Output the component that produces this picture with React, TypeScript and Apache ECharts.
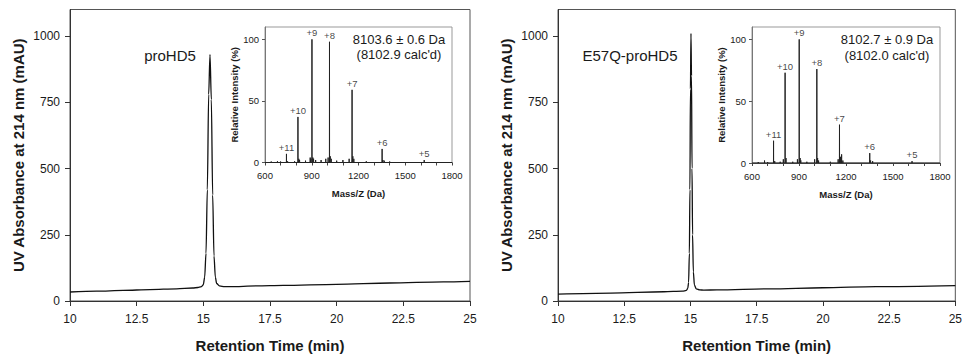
import { useEffect, useRef } from "react";
import * as echarts from "echarts";

// HPLC traces (retention time in min, absorbance in mAU)
const timeA = [10, 11, 12, 13, 14, 14.6, 14.8, 14.9, 14.95, 15.0, 15.05, 15.1, 15.15, 15.2, 15.25, 15.3, 15.35, 15.4, 15.45, 15.5, 15.6, 15.8, 16, 17, 18, 20, 22, 24, 25];
const absA = [34, 37, 40, 43, 46, 49, 51, 53, 56, 62, 90, 180, 420, 780, 930, 760, 400, 170, 90, 66, 57, 54, 54, 57, 59, 63, 68, 72, 74];

const timeB = [10, 12, 14, 14.7, 14.85, 14.9, 14.93, 14.96, 14.98, 15.0, 15.02, 15.04, 15.06, 15.08, 15.11, 15.15, 15.22, 15.35, 15.5, 16, 18, 20, 22, 25];
const absB = [26, 30, 35, 37, 40, 48, 70, 180, 420, 800, 1010, 850, 500, 250, 110, 60, 46, 42, 41, 42, 46, 50, 54, 58];

// ESI-MS: charge-state ions
const chargeLabels = ["+11", "+10", "+9", "+8", "+7", "+6", "+5"];
const ionMzA = [737.7, 811.4, 901.4, 1013.9, 1158.7, 1351.6, 1621.7];
const ionIntA = [7, 37, 100, 98, 59, 11, 2];
const ionMzB = [737.6, 811.3, 901.3, 1013.8, 1158.5, 1351.5, 1621.5];
const ionIntB = [18, 73, 100, 76, 31, 8, 1.5];

// minor peaks / adducts / noise
const minorMzA = [640, 680, 700, 745, 790, 817, 822, 860, 890, 895, 907, 912, 925, 960, 990, 1005, 1019, 1025, 1060, 1100, 1140, 1164, 1170, 1250, 1357, 1365, 1400, 1500, 1700];
const minorIntA = [0.8, 1, 0.8, 1, 1, 3, 2, 1.5, 4, 3, 4, 3, 2, 2, 3, 4, 5, 3, 1.5, 2, 3, 5, 3, 1, 2, 1.5, 0.8, 0.5, 0.5];
const minorMzB = [640, 680, 700, 745, 780, 800, 817, 860, 890, 907, 912, 950, 1000, 1019, 1025, 1100, 1150, 1165, 1172, 1180, 1357, 1370, 1450, 1700];
const minorIntB = [0.8, 2, 0.8, 1.5, 1, 3, 4, 1, 3, 4, 2, 1, 3, 4, 2, 1, 3, 5, 7, 2, 2, 1.5, 0.5, 0.5];

const insetText = [
  ["8103.6 \u00b1 0.6 Da", "(8102.9 calc'd)"],
  ["8102.7 \u00b1 0.9 Da", "(8102.0 calc'd)"],
];
const sampleNames = ["proHD5", "E57Q-proHD5"];

const FONT = "'Liberation Sans', Arial, Helvetica, sans-serif";
const TXT = "#1a1a1a";

function zip(a: number[], b: number[]) {
  return a.map((v, i) => [v, b[i]]);
}

function sticks(mzs: number[], ints: number[]) {
  const pairs = mzs.map((m, i) => [m, ints[i]]).sort((p, q) => p[0] - q[0]);
  const out: number[][] = [[600, 0]];
  pairs.forEach(([m, h]) => {
    out.push([m - 0.5, 0], [m, h], [m + 0.5, 0]);
  });
  out.push([1800, 0]);
  return out;
}

export default function App() {
  const ref = useRef<HTMLDivElement>(null);
  useEffect(() => {
    if (!ref.current) return;
    const chart = echarts.init(ref.current, null, { renderer: "svg" });

    const mainGrids = [
      { left: 70, top: 9.5, width: 400, height: 297.5 },
      { left: 558, top: 9.5, width: 401, height: 297.5 },
    ];
    const insetGrids = [
      { left: 265, top: 27, width: 187, height: 135.5 },
      { left: 752, top: 27, width: 188, height: 136 },
    ];

    const grid: any[] = [];
    const xAxis: any[] = [];
    const yAxis: any[] = [];
    const series: any[] = [];

    const fmt = (v: number) => String(v);

    [0, 1].forEach((p) => {
      // main
      grid.push({ ...mainGrids[p], show: true, borderColor: "#555", borderWidth: 1, backgroundColor: "transparent" });
      const gi = grid.length - 1;
      xAxis.push({
        type: "value", gridIndex: gi, min: 10, max: 25, interval: 2.5,
        name: "Retention Time (min)", nameLocation: "middle", nameGap: 37,
        nameTextStyle: { fontFamily: FONT, fontSize: 15, fontWeight: "bold", color: TXT },
        axisLine: { show: true, onZero: false, lineStyle: { color: "#333", width: 1 } },
        axisTick: { show: true, inside: false, length: 5, lineStyle: { color: "#333" } },
        axisLabel: { fontFamily: FONT, fontSize: 12, color: TXT, margin: 12, formatter: fmt },
        splitLine: { show: false },
      });
      yAxis.push({
        type: "value", gridIndex: gi, min: 0, max: 1100, interval: 250,
        name: "UV Absorbance at 214 nm (mAU)", nameLocation: "middle", nameGap: 44,
        nameTextStyle: { fontFamily: FONT, fontSize: 15, fontWeight: "bold", color: TXT },
        axisLine: { show: true, onZero: false, lineStyle: { color: "#333", width: 1 } },
        axisTick: { show: true, inside: false, length: 5, lineStyle: { color: "#333" }, customValues: [0, 250, 500, 750, 1000] },
        axisLabel: { fontFamily: FONT, fontSize: 12, color: TXT, margin: 10, formatter: fmt, customValues: [0, 250, 500, 750, 1000] },
        splitLine: { show: false },
      });
      series.push({
        type: "line", xAxisIndex: gi, yAxisIndex: gi,
        data: p === 0 ? zip(timeA, absA) : zip(timeB, absB),
        showSymbol: false, symbol: "none", smooth: 0.3, smoothMonotone: "x",
        lineStyle: { color: "#111", width: 1.3 }, silent: true,
      });

      // inset
      grid.push({ ...insetGrids[p], show: true, borderColor: "#999", borderWidth: 1, backgroundColor: "transparent" });
      const ii = grid.length - 1;
      xAxis.push({
        type: "value", gridIndex: ii, min: 600, max: 1800, interval: 100,
        name: "Mass/Z (Da)", nameLocation: "middle", nameGap: 26,
        nameTextStyle: { fontFamily: FONT, fontSize: 9.5, fontWeight: "bold", color: TXT },
        axisLine: { show: true, onZero: false, lineStyle: { color: "#444", width: 1 } },
        axisTick: { show: true, inside: false, length: 3, lineStyle: { color: "#444" } },
        axisLabel: { fontFamily: FONT, fontSize: 9.5, color: TXT, margin: 8, formatter: fmt, customValues: [600, 900, 1200, 1500, 1800] },
        splitLine: { show: false },
      });
      yAxis.push({
        type: "value", gridIndex: ii, min: 0, max: 110, interval: 50,
        name: "Relative Intensity (%)", nameLocation: "middle", nameGap: 26,
        nameTextStyle: { fontFamily: FONT, fontSize: 9.5, fontWeight: "bold", color: TXT },
        axisLine: { show: true, onZero: false, lineStyle: { color: "#777", width: 1 } },
        axisTick: { show: true, inside: false, length: 3, lineStyle: { color: "#555" }, customValues: [0, 50, 100] },
        axisLabel: { fontFamily: FONT, fontSize: 9.5, color: TXT, margin: 6, formatter: fmt, customValues: [0, 50, 100] },
        splitLine: { show: false },
      });
      const ionMz = p === 0 ? ionMzA : ionMzB;
      const ionInt = p === 0 ? ionIntA : ionIntB;
      const minMz = p === 0 ? minorMzA : minorMzB;
      const minInt = p === 0 ? minorIntA : minorIntB;
      series.push({
        type: "line", xAxisIndex: ii, yAxisIndex: ii,
        data: sticks(ionMz.concat(minMz), ionInt.concat(minInt)),
        showSymbol: false, symbol: "none", smooth: false,
        lineStyle: { color: "#222", width: 1 }, silent: true,
      });
      series.push({
        type: "scatter", xAxisIndex: ii, yAxisIndex: ii,
        data: ionMz.map((m, i) => ({ value: [m, ionInt[i]], name: chargeLabels[i] })),
        symbolSize: 1, itemStyle: { color: "rgba(255,255,255,0)" }, silent: true,
        label: {
          show: true, position: "top", distance: 1,
          formatter: (d: any) => d.name,
          fontFamily: FONT, fontSize: 9.5, color: "#111", textBorderWidth: 0,
        },
      });
    });

    const graphic: any[] = [
      { type: "text", x: 170, y: 55, style: { text: sampleNames[0], font: `15px ${FONT}`, fill: TXT, align: "center", verticalAlign: "middle" } },
      { type: "text", x: 630, y: 55, style: { text: sampleNames[1], font: `15px ${FONT}`, fill: TXT, align: "center", verticalAlign: "middle" } },
      { type: "text", x: 399, y: 39, style: { text: insetText[0][0], font: `13px ${FONT}`, fill: TXT, align: "center", verticalAlign: "middle" } },
      { type: "text", x: 399, y: 54, style: { text: insetText[0][1], font: `13px ${FONT}`, fill: TXT, align: "center", verticalAlign: "middle" } },
      { type: "text", x: 887, y: 39, style: { text: insetText[1][0], font: `13px ${FONT}`, fill: TXT, align: "center", verticalAlign: "middle" } },
      { type: "text", x: 887, y: 55, style: { text: insetText[1][1], font: `13px ${FONT}`, fill: TXT, align: "center", verticalAlign: "middle" } },
    ];

    chart.setOption({
      animation: false,
      backgroundColor: "#ffffff",
      textStyle: { fontFamily: FONT },
      grid, xAxis, yAxis, series, graphic,
    });
    return () => chart.dispose();
  }, []);

  return <div ref={ref} style={{ position: "absolute", left: 0, top: 0, width: 965, height: 358 }} />;
}
